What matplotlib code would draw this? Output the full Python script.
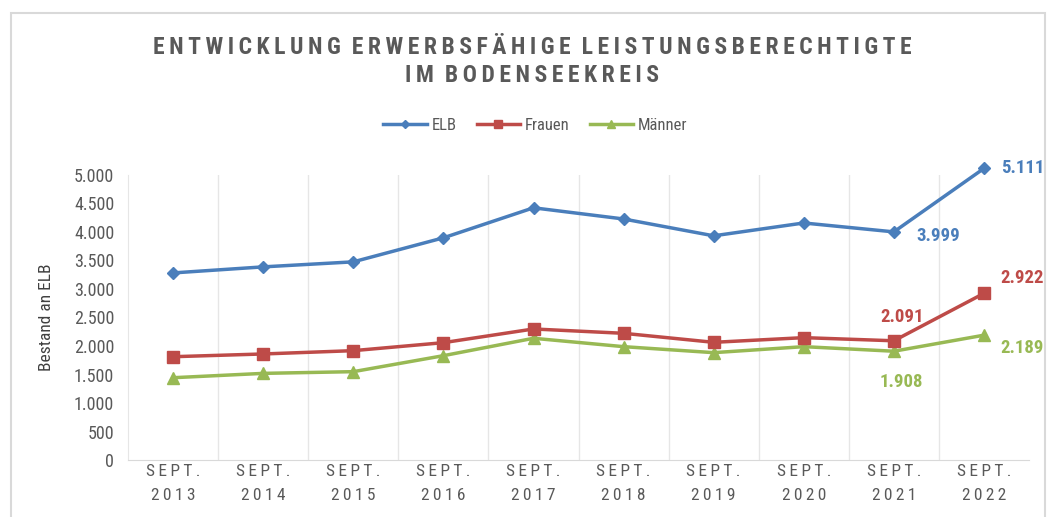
import numpy as np
import matplotlib
matplotlib.use('Agg')
import matplotlib.pyplot as plt
from matplotlib import font_manager
from matplotlib.font_manager import FontProperties
from matplotlib.patches import Rectangle
from matplotlib.ticker import FuncFormatter

# schmale Schrift suchen (Condensed / Narrow), sonst Standard
def find_narrow(bold):
    best = None
    for f in font_manager.fontManager.ttflist:
        narrow = f.stretch in ('condensed', 'semi-condensed') or 'Narrow' in f.name \
            or 'Condensed' in f.name or 'Condensed' in f.fname
        if not narrow or f.style != 'normal':
            continue
        w = f.weight if isinstance(f.weight, int) else (700 if 'bold' in str(f.weight) else 400)
        if (w >= 600) == bold:
            best = f.fname
            if 'Liberation' in f.fname or 'Roboto' in f.fname:
                break
    return best

REG = find_narrow(False)
BLD = find_narrow(True)


def fp(size, bold=False):
    fn = BLD if bold else REG
    if fn:
        return FontProperties(fname=fn, size=size)
    return FontProperties(family='DejaVu Sans', size=size * 0.85,
                          weight='bold' if bold else 'normal')


# ── Daten ──
YEARS = ['2013', '2014', '2015', '2016', '2017', '2018', '2019', '2020', '2021', '2022']
ELB    = [3280, 3386, 3474, 3895, 4421, 4225, 3930, 4155, 3999, 5111]
FRAUEN = [1812, 1860, 1918, 2058, 2298, 2222, 2064, 2146, 2091, 2922]
MAENNER = [1444, 1520, 1550, 1830, 2135, 1988, 1883, 1988, 1908, 2189]

C_ELB = '#4A7EBB'
C_FRA = '#BE4B48'
C_MAE = '#98B954'
C_TXT = '#595959'
TS = '\u2009'  # thin space for letter tracking

fig = plt.figure(figsize=(10.5, 5.17), dpi=100)
fig.patches.append(Rectangle((0.010, -0.01), 0.985, 0.985, transform=fig.transFigure,
                             fill=False, edgecolor='#D9D9D9', lw=1.5))

ax = fig.add_axes([0.122, 0.11, 0.858, 0.552])
x = np.arange(len(YEARS))

ax.plot(x, ELB, color=C_ELB, lw=2.5, marker='D', ms=6, label='ELB', zorder=5, clip_on=False)
ax.plot(x, FRAUEN, color=C_FRA, lw=2.5, marker='s', ms=9, label='Frauen', zorder=4, clip_on=False)
ax.plot(x, MAENNER, color=C_MAE, lw=2.5, marker='^', ms=8, label='Männer', zorder=3, clip_on=False)

ax.set_xlim(-0.5, len(YEARS) - 0.5)
ax.set_ylim(0, 5000)
ax.set_yticks(range(0, 5001, 500))
ax.yaxis.set_major_formatter(FuncFormatter(lambda v, p: f'{int(v):,}'.replace(',', '.')))
ax.set_xticks(x)
ax.set_xticklabels([TS.join('SEPT.') + '\n' + TS.join(y) for y in YEARS], color=C_TXT,
                   fontproperties=fp(12.5), linespacing=1.75)
for lab in ax.get_yticklabels():
    lab.set_fontproperties(fp(13))
ax.tick_params(axis='y', labelcolor=C_TXT, length=0, pad=10)
ax.tick_params(axis='x', length=0, pad=3)

for b in np.arange(0.5, len(YEARS) - 1, 1):
    ax.axvline(b, color='#E6E6E6', lw=1, zorder=0)
for s in ['top', 'right']:
    ax.spines[s].set_visible(False)
ax.spines['left'].set_color('#E6E6E6')
ax.spines['bottom'].set_color('#D9D9D9')
ax.set_ylabel('Bestand an ELB', fontproperties=fp(12.5), color='#404040', labelpad=14)


def de(v):
    return f'{v:,}'.replace(',', '.')


kw = dict(fontproperties=fp(13.5, True), textcoords='offset points', va='center',
          annotation_clip=False)
ax.annotate(de(ELB[-1]), (x[-1], ELB[-1]), xytext=(12, 0), color=C_ELB, ha='left', **kw)
ax.annotate(de(ELB[-2]), (x[-2], ELB[-2]), xytext=(16, -3), color=C_ELB, ha='left', **kw)
ax.annotate(de(FRAUEN[-1]), (x[-1], FRAUEN[-1]), xytext=(12, 11), color=C_FRA, ha='left', **kw)
ax.annotate(de(FRAUEN[-2]), (x[-2], FRAUEN[-2]), xytext=(6, 17), color=C_FRA, ha='center', **kw)
ax.annotate(de(MAENNER[-1]), (x[-1], MAENNER[-1]), xytext=(12, -9), color=C_MAE, ha='left', **kw)
ax.annotate(de(MAENNER[-2]), (x[-2], MAENNER[-2]), xytext=(5, -22), color=C_MAE, ha='center', **kw)

fig.text(0.507, 0.908, TS.join('ENTWICKLUNG') + '  ' + TS.join('ERWERBSFÄHIGE') + '  '
         + TS.join('LEISTUNGSBERECHTIGTE'),
         ha='center', va='center', fontproperties=fp(17, True), color=C_TXT)
fig.text(0.507, 0.853, TS.join('IM') + '  ' + TS.join('BODENSEEKREIS'),
         ha='center', va='center', fontproperties=fp(17, True), color=C_TXT)

fig.legend(loc='center', bbox_to_anchor=(0.51, 0.757), ncol=3, frameon=False,
           prop=fp(12), handlelength=2.6, columnspacing=1.2, handletextpad=0.3,
           markerscale=0.7, labelcolor=C_TXT)

fig.savefig('out.png', dpi=100, facecolor='white')
